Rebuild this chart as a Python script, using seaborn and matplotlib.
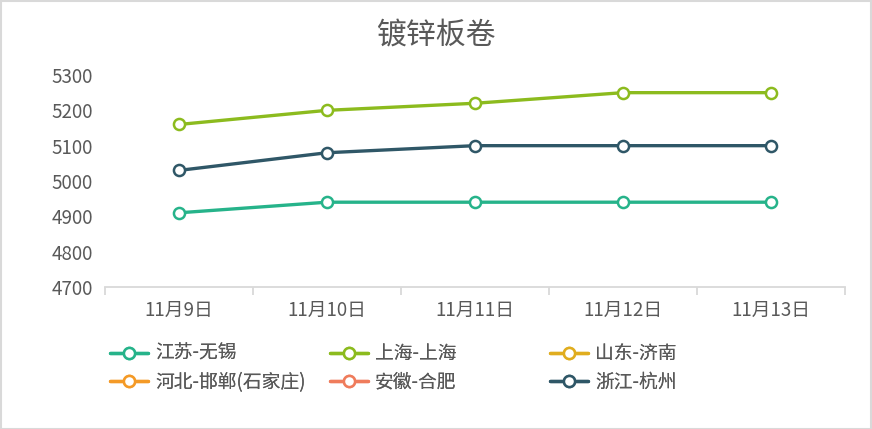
import matplotlib
matplotlib.use("Agg")
import matplotlib.pyplot as plt
import seaborn as sns
import pandas as pd
from matplotlib.lines import Line2D
from matplotlib.patches import Rectangle

# ---- data ----
dates = ["11月9日", "11月10日", "11月11日", "11月12日", "11月13日"]
series_names = ["江苏-无锡", "上海-上海", "山东-济南", "河北-邯郸(石家庄)", "安徽-合肥", "浙江-杭州"]
jiangsu_wuxi = [4910, 4940, 4940, 4940, 4940]
shanghai_shanghai = [5160, 5200, 5220, 5250, 5250]
zhejiang_hangzhou = [5030, 5080, 5100, 5100, 5100]
series_colors = ["#26b38a", "#8cbb1e", "#e0ad1f", "#f49a27", "#ef7c5c", "#2f5767"]
yticks = [4700, 4800, 4900, 5000, 5100, 5200, 5300]
title = "镀锌板卷"

plotted = {
    "江苏-无锡": jiangsu_wuxi,
    "上海-上海": shanghai_shanghai,
    "浙江-杭州": zhejiang_hangzhou,
}

sns.set_theme(style="white")
plt.rcParams['font.family'] = ['Noto Sans CJK SC', 'DejaVu Sans']
TXT = "#595959"
FS = 13.5

W, H = 872, 429
fig = plt.figure(figsize=(W / 100, H / 100), dpi=100)
ax = fig.add_axes([105 / W, 1 - 287 / H, 740 / W, 212 / H])

color_map = dict(zip(series_names, series_colors))
rows = []
for name, vals in plotted.items():
    for d, v in zip(dates, vals):
        rows.append({"date": d, "value": v, "series": name})
df = pd.DataFrame(rows)

for name in plotted:
    c = color_map[name]
    sns.lineplot(data=df[df["series"] == name], x="date", y="value", color=c,
                 marker="o", markersize=8, markerfacecolor="white",
                 markeredgecolor=c, markeredgewidth=1.8, linewidth=2.4,
                 sort=False, legend=False, ax=ax, zorder=3)

ax.set_xlim(-0.5, len(dates) - 0.5)
ax.set_ylim(yticks[0], yticks[-1])
ax.set_yticks(yticks)
ax.set_xticks(range(len(dates)))
ax.set_xticklabels(dates)
ax.set_xticks([i - 0.5 for i in range(len(dates) + 1)], minor=True)
ax.set_xlabel("")
ax.set_ylabel("")
ax.tick_params(axis="x", which="major", length=0, pad=9.5, labelsize=FS, labelcolor=TXT)
ax.tick_params(axis="x", which="minor", length=6, width=1.3, color="#d9d9d9", direction="out", bottom=True)
ax.tick_params(axis="y", length=0, pad=8.5, labelsize=FS, labelcolor=TXT)
for s in ["top", "right", "left"]:
    ax.spines[s].set_visible(False)
ax.spines["bottom"].set_color("#d9d9d9")
ax.spines["bottom"].set_linewidth(1.3)
ax.grid(False)

fig.text(436 / W, 1 - 36 / H, title, ha="center", va="center", fontsize=21.5, color=TXT)

# legend: three columns, row-major order
handles = [Line2D([], [], color=c, lw=2.4, marker="o", ms=8, mfc="white", mec=c, mew=1.8)
           for c in series_colors]
col_x = [110, 330, 550]
for ci in range(3):
    idx = [ci, ci + 3]
    leg = fig.legend([handles[i] for i in idx], [series_names[i] for i in idx],
                     loc="center left", bbox_to_anchor=(col_x[ci] / W, 1 - 368 / H),
                     frameon=False, fontsize=FS, handlelength=2.0, handletextpad=0.4,
                     labelspacing=0.42, borderpad=0, borderaxespad=0, labelcolor=TXT)
    fig.add_artist(leg)

fig.add_artist(Rectangle((0.5 / W, 0.5 / H), 1 - 1.5 / W, 1 - 1.5 / H, transform=fig.transFigure,
                         fill=False, edgecolor="#d9d9d9", linewidth=1.5))

fig.savefig("out.png", dpi=100)
